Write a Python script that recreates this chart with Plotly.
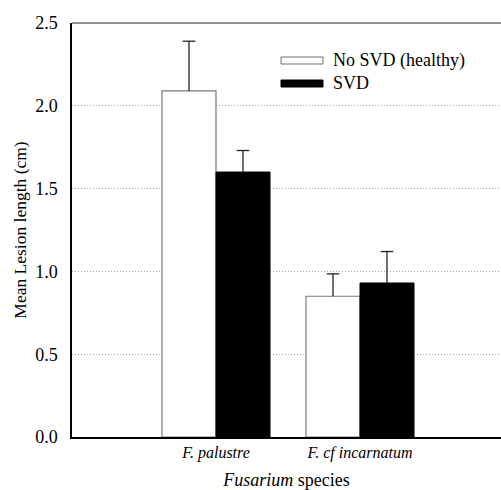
import plotly.graph_objects as go

categories = ["<i>F. palustre</i>", "<i>F. cf incarnatum</i>"]
cat_pos = [1, 2]
healthy = [2.09, 0.85]
healthy_err = [0.30, 0.135]
svd = [1.60, 0.93]
svd_err = [0.13, 0.19]
y_ticks = [0.0, 0.5, 1.0, 1.5, 2.0, 2.5]
series_names = ["No SVD (healthy)", "SVD"]

FONT = "Liberation Serif"
BARGAP = 0.25
OFFSET = (1 - BARGAP) / 4  # center offset of each bar inside its group

fig = go.Figure()
fig.add_trace(go.Bar(
    x=cat_pos, y=healthy, name=series_names[0],
    marker=dict(color="white", line=dict(color="#7a7a7a", width=1.2)),
    error_y=dict(type="data", array=healthy_err, arrayminus=[0, 0], symmetric=False,
                 color="#222", thickness=1.3, width=0),
))
fig.add_trace(go.Bar(
    x=cat_pos, y=svd, name=series_names[1],
    marker=dict(color="black", line=dict(color="black", width=1)),
    error_y=dict(type="data", array=svd_err, arrayminus=[0, 0], symmetric=False,
                 color="#222", thickness=1.3, width=0),
))
# error bar caps (top only)
cap_x = [p - OFFSET for p in cat_pos] + [p + OFFSET for p in cat_pos]
cap_y = [v + e for v, e in zip(healthy, healthy_err)] + [v + e for v, e in zip(svd, svd_err)]
fig.add_trace(go.Scatter(
    x=cap_x, y=cap_y, mode="markers", hoverinfo="skip",
    marker=dict(symbol="line-ew", size=9, line=dict(color="#222", width=1.3)),
))

W, H = 501, 490
L, R, T, B = 72, 0, 23, 53
pw = W - L - R
ph = H - T - B

def px_x(x):
    return (x - L) / pw

def px_y(y):
    return (H - B - y) / ph

shapes = [
    dict(type="line", xref="paper", yref="paper", x0=0, x1=1, y0=1, y1=1,
         line=dict(color="#6e6e6e", width=1.5)),
    dict(type="rect", xref="paper", yref="paper", x0=px_x(281), x1=px_x(323),
         y0=px_y(64), y1=px_y(57), fillcolor="white", line=dict(color="#6e6e6e", width=1)),
    dict(type="rect", xref="paper", yref="paper", x0=px_x(281), x1=px_x(323),
         y0=px_y(87), y1=px_y(80), fillcolor="black", line=dict(color="black", width=1)),
]
annotations = [
    dict(xref="paper", yref="paper", x=px_x(331), y=px_y(61), xanchor="left", yanchor="middle",
         text=series_names[0], showarrow=False, font=dict(family=FONT, size=18, color="black")),
    dict(xref="paper", yref="paper", x=px_x(331), y=px_y(83), xanchor="left", yanchor="middle",
         text=series_names[1], showarrow=False, font=dict(family=FONT, size=18, color="black")),
]

fig.update_layout(
    width=W, height=H,
    margin=dict(l=L, r=R, t=T, b=B, pad=0),
    paper_bgcolor="white", plot_bgcolor="white",
    barmode="group", bargap=BARGAP, bargroupgap=0,
    showlegend=False,
    font=dict(family=FONT, size=16, color="black"),
    shapes=shapes, annotations=annotations,
    xaxis=dict(
        type="linear", range=[0, pw / 144], tickvals=cat_pos, ticktext=categories,
        showgrid=False, zeroline=False, showline=True, linecolor="black", linewidth=1.5,
        ticks="", ticklabelstandoff=0, tickfont=dict(family=FONT, size=16),
        title=dict(text="<i>Fusarium</i> species", font=dict(family=FONT, size=18), standoff=14),
    ),
    yaxis=dict(
        range=[0, 2.5], tickvals=y_ticks, ticktext=[f"{v:.1f}" for v in y_ticks],
        showgrid=True, gridcolor="#a8a8a8", griddash="1px,2px", gridwidth=1,
        zeroline=False, showline=True, linecolor="black", linewidth=1.5,
        ticks="", ticklabelstandoff=9, tickfont=dict(family=FONT, size=18),
        title=dict(text="Mean Lesion length (cm)", font=dict(family=FONT, size=17.5), standoff=4),
    ),
)

fig.write_html("out.html", config={"displayModeBar": False},
               post_script="document.body.style.margin='0';")
